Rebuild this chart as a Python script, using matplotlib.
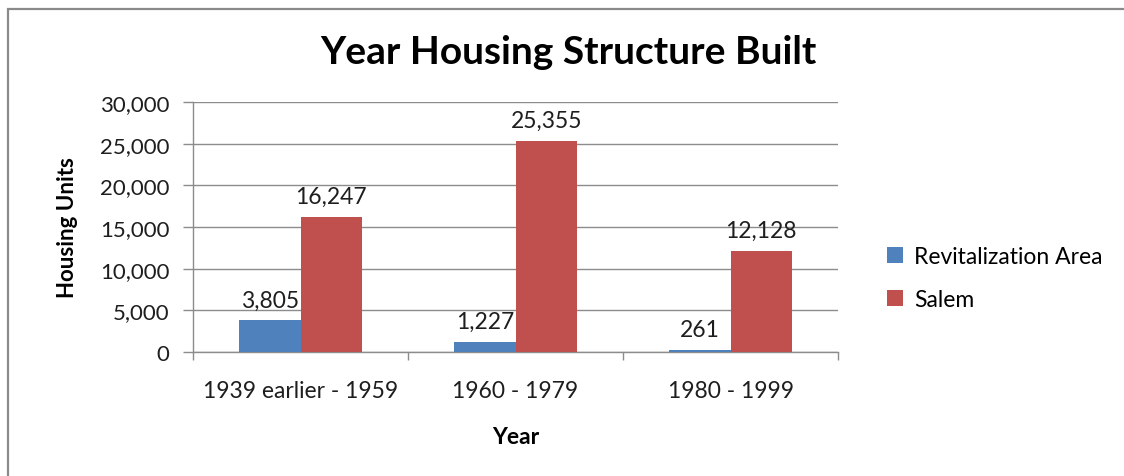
import matplotlib.pyplot as plt
from matplotlib.patches import Rectangle
import numpy as np

plt.rcParams['font.family'] = ['Lato', 'DejaVu Sans']

# data
categories = ['1939 earlier - 1959', '1960 - 1979', '1980 - 1999']
revitalization = [3805, 1227, 261]
salem = [16247, 25355, 12128]
series_names = ['Revitalization Area', 'Salem']
yticks = [0, 5000, 10000, 15000, 20000, 25000, 30000]

blue = '#4F81BD'
red = '#C0504D'
grid_col = '#8C8C8C'
txt = '#1E1E1E'

fig = plt.figure(figsize=(11.24, 4.77), dpi=100)
ax = fig.add_axes([193 / 1124, 1 - 353 / 477, 645 / 1124, 250 / 477])

# outer chart frame (runs off right and bottom of picture)
fig.patches.append(Rectangle((8 / 1124, -0.2), 2, 1.2 - 10 / 477,
                             transform=fig.transFigure, fill=False,
                             edgecolor='#8A8A8A', linewidth=1.6))

x = np.arange(len(categories))
w = 1 / 3.5  # gap width 150%
b1 = ax.bar(x - w / 2, revitalization, w, color=blue, label=series_names[0], zorder=3)
b2 = ax.bar(x + w / 2, salem, w, color=red, label=series_names[1], zorder=3)

for bars, vals in [(b1, revitalization), (b2, salem)]:
    for r, v in zip(bars, vals):
        ax.annotate(f'{v:,}', (r.get_x() + r.get_width() / 2, v),
                    xytext=(0, 7), textcoords='offset points',
                    ha='center', va='bottom', fontsize=16.5, color=txt)

ax.set_xlim(-0.5, len(categories) - 0.5)
ax.set_ylim(0, 30000)
ax.set_yticks(yticks)
ax.set_yticklabels([f'{t:,}' for t in yticks], fontsize=16, color=txt)
ax.set_xticks(x)
ax.set_xticklabels(categories, fontsize=16.5, color=txt)
ax.set_xticks(np.arange(len(categories) + 1) - 0.5, minor=True)
ax.tick_params(axis='x', which='major', length=0, pad=20)
ax.tick_params(axis='x', which='minor', length=6, color=grid_col, width=1)
ax.tick_params(axis='y', length=7, color=grid_col, width=1, pad=10)

ax.yaxis.grid(True, color=grid_col, linewidth=1, zorder=0)
for s in ['top', 'right']:
    ax.spines[s].set_visible(False)
for s in ['left', 'bottom']:
    ax.spines[s].set_color(grid_col)
    ax.spines[s].set_linewidth(1)

ax.set_ylabel('Housing Units', fontsize=16, fontweight='bold', labelpad=16)
ax.set_xlabel('Year', fontsize=16.5, fontweight='bold', labelpad=18)

fig.text(568 / 1124, 1 - 52 / 477, 'Year Housing Structure Built',
         ha='center', va='center', fontsize=28, fontweight='bold')

ax.legend(loc='center left', bbox_to_anchor=(866 / 1124, 1 - 279 / 477),
          bbox_transform=fig.transFigure, frameon=False, fontsize=16.5,
          handlelength=0.7, handleheight=0.7, handletextpad=0.5,
          labelspacing=1.0)

fig.savefig('out.png', dpi=100)
